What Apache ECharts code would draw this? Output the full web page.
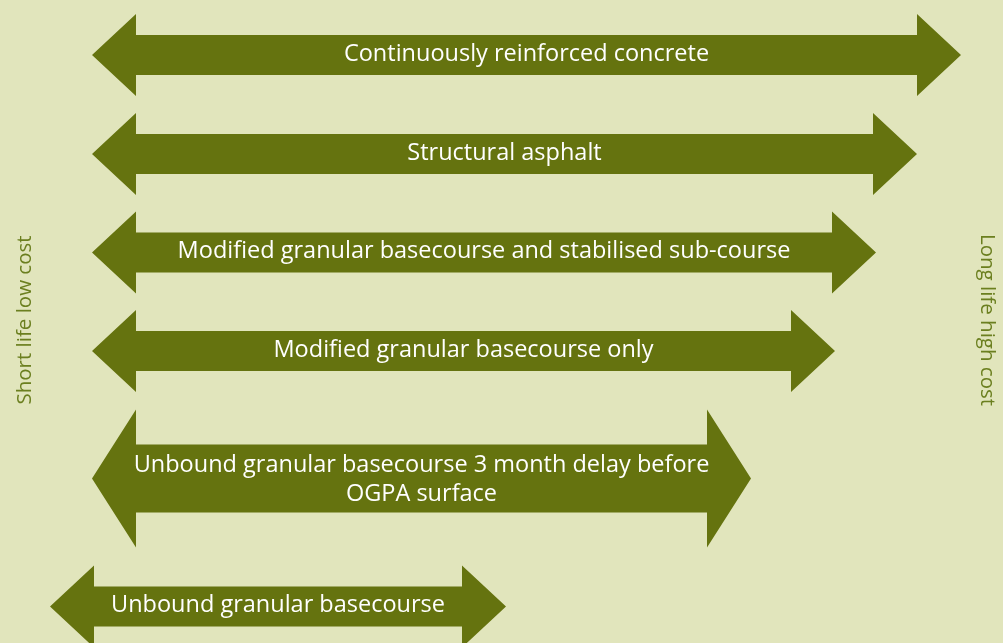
<!DOCTYPE html>
<html lang="en">
<head>
    <meta charset="UTF-8">
    <title>pavement options</title>
</head>
<style>
    * {
        margin: 0;
        padding: 0;
    }

    html, body {
        height: 100%;
    }

    body {
        background: #e1e5bc;
    }

    .chart {
        width: 1003px;
        height: 643px;
    }
</style>
<script src="https://cdn.jsdelivr.net/npm/echarts@6/dist/echarts.min.js"></script>
<body>
<div class="chart" id="chart"></div>
</body>
<script>
  // one arrow per option (x runs short life -> long life)
  const labels = [
    'Continuously reinforced concrete',
    'Structural asphalt',
    'Modified granular basecourse and stabilised sub-course',
    'Modified granular basecourse only',
    'Unbound granular basecourse 3 month delay before\nOGPA surface',
    'Unbound granular basecourse'
  ]
  const leftEnd = [92, 92, 92, 92, 92, 50]
  const rightEnd = [961, 917, 876, 835, 751, 506]
  const rowY = [55, 154, 252.5, 351, 478.5, 606.5]

  const leftName = 'Short life low cost'
  const rightName = 'Long life high cost'

  const arrowColor = '#65730f'
  const sideColor = '#6b7f1f'

  const chart = echarts.init(document.getElementById('chart'))

  const data = labels.map((name, i) => ({
    name: name,
    value: [leftEnd[i], rightEnd[i], rowY[i]]
  }))

  function renderArrow(params, api) {
    const i = params.dataIndex
    const l = api.coord([api.value(0), api.value(2)])
    const r = api.coord([api.value(1), api.value(2)])
    const lines = labels[i].split('\n').length
    const head = 44
    const hh = lines > 1 ? 69 : 41
    const sh = lines > 1 ? 34 : 20
    const y = l[1]
    const points = [
      [l[0], y],
      [l[0] + head, y - hh],
      [l[0] + head, y - sh],
      [r[0] - head, y - sh],
      [r[0] - head, y - hh],
      [r[0], y],
      [r[0] - head, y + hh],
      [r[0] - head, y + sh],
      [l[0] + head, y + sh],
      [l[0] + head, y + hh]
    ]
    return {
      type: 'group',
      children: [
        {
          type: 'polygon',
          shape: {points: points},
          style: {fill: arrowColor}
        },
        {
          type: 'text',
          x: (l[0] + r[0]) / 2,
          y: lines > 1 ? y + 1.5 : y - 1,
          style: {
            text: labels[i],
            fill: '#ffffff',
            font: '23.5px "Open Sans"',
            align: 'center',
            verticalAlign: 'middle',
            lineHeight: 29
          }
        }
      ]
    }
  }

  chart.setOption({
    backgroundColor: '#e1e5bc',
    animation: false,
    grid: {left: 0, right: 0, top: 0, bottom: 0},
    xAxis: {type: 'value', min: 0, max: 1003, show: false},
    yAxis: {type: 'value', min: 0, max: 643, inverse: true, show: false},
    graphic: [
      {
        type: 'text',
        x: 25,
        y: 320,
        rotation: Math.PI / 2,
        style: {
          text: leftName,
          fill: sideColor,
          font: '20.5px "Open Sans"',
          align: 'center',
          verticalAlign: 'middle'
        }
      },
      {
        type: 'text',
        x: 987,
        y: 320,
        rotation: -Math.PI / 2,
        style: {
          text: rightName,
          fill: sideColor,
          font: '20.5px "Open Sans"',
          align: 'center',
          verticalAlign: 'middle'
        }
      }
    ],
    series: [
      {
        type: 'custom',
        renderItem: renderArrow,
        data: data
      }
    ]
  })
</script>
</html>
